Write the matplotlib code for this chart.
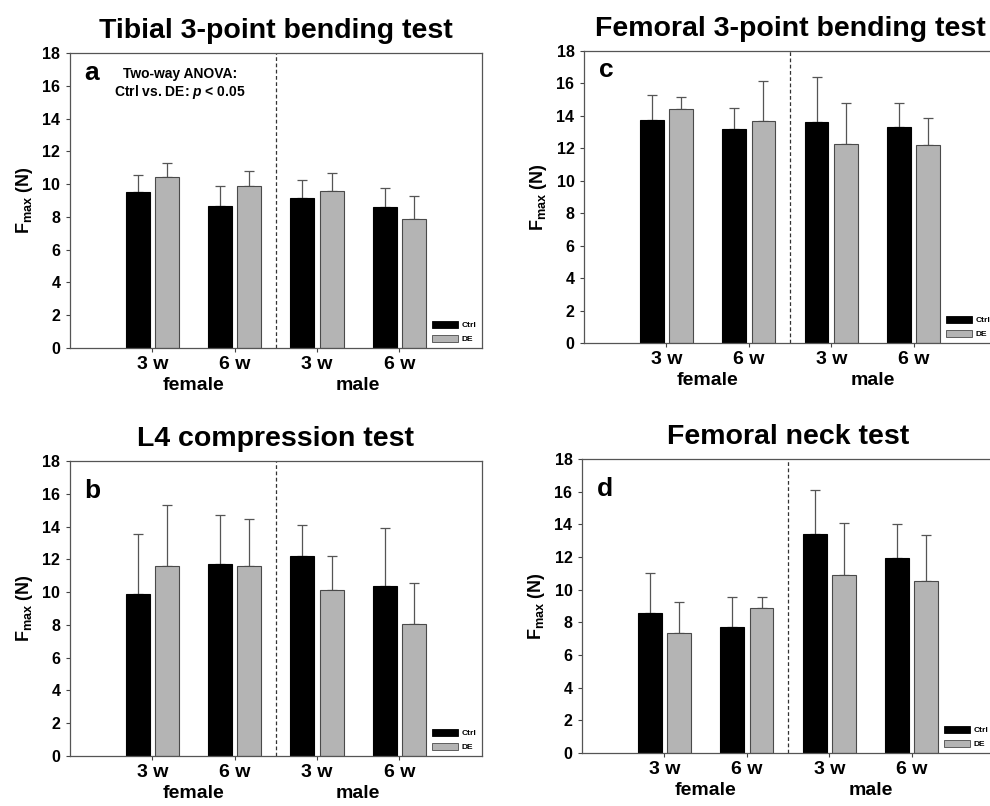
import numpy as np
import matplotlib
matplotlib.use("Agg")
from matplotlib import pyplot as plt
from matplotlib.patches import Patch

plt.rcParams['font.family'] = ['Liberation Sans', 'DejaVu Sans']
plt.rcParams['font.weight'] = 'bold'
plt.rcParams['mathtext.fontset'] = 'custom'
plt.rcParams['mathtext.rm'] = 'Liberation Sans:bold'
plt.rcParams['mathtext.it'] = 'Liberation Sans:bold:italic'

groups = ["3 w", "6 w", "3 w", "6 w"]
sexes = ["female", "male"]
series = ["Ctrl", "DE"]

# tibial 3-point bending (a)
tib_ctrl = [9.52, 8.68, 9.15, 8.62]
tib_ctrl_sd = [1.01, 1.18, 1.10, 1.16]
tib_de = [10.43, 9.88, 9.60, 7.87]
tib_de_sd = [0.86, 0.92, 1.06, 1.40]

# L4 compression (b)
l4_ctrl = [9.89, 11.70, 12.23, 10.36]
l4_ctrl_sd = [3.66, 2.99, 1.87, 3.58]
l4_de = [11.62, 11.58, 10.12, 8.03]
l4_de_sd = [3.68, 2.87, 2.09, 2.53]

# femoral 3-point bending (c)
fem_ctrl = [13.77, 13.22, 13.63, 13.32]
fem_ctrl_sd = [1.54, 1.25, 2.75, 1.46]
fem_de = [14.41, 13.69, 12.27, 12.23]
fem_de_sd = [0.78, 2.48, 2.55, 1.67]

# femoral neck (d)
neck_ctrl = [8.57, 7.71, 13.43, 11.94]
neck_ctrl_sd = [2.43, 1.82, 2.67, 2.08]
neck_de = [7.35, 8.88, 10.90, 10.51]
neck_de_sd = [1.87, 0.65, 3.20, 2.86]

panels = [
    ("Tibial 3-point bending test", "a", tib_ctrl, tib_ctrl_sd, tib_de, tib_de_sd, [0.0707, 0.5682, 0.416, 0.366], 0.91),
    ("Femoral 3-point bending test", "c", fem_ctrl, fem_ctrl_sd, fem_de, fem_de_sd, [0.590, 0.5744, 0.416, 0.3623], 0.91),
    ("L4 compression test", "b", l4_ctrl, l4_ctrl_sd, l4_de, l4_de_sd, [0.0707, 0.062, 0.416, 0.366], 0.875),
    ("Femoral neck test", "d", neck_ctrl, neck_ctrl_sd, neck_de, neck_de_sd, [0.588, 0.0658, 0.416, 0.3647], 0.875),
]

ctrl_col = "black"
de_col = "#b4b4b4"
edge = "#4a4a4a"
w = 0.29
off = 0.178

fig = plt.figure(figsize=(9.9, 8.06), dpi=100)

for title, letter, c, csd, d, dsd, pos, ly in panels:
    ax = fig.add_axes(pos)
    x = np.arange(1, len(groups) + 1)
    ax.bar(x - off, c, w, color=ctrl_col, edgecolor="black", linewidth=0.8, zorder=2)
    ax.bar(x + off, d, w, color=de_col, edgecolor=edge, linewidth=0.8, zorder=2)
    ax.errorbar(x - off, c, yerr=[np.zeros(len(c)), csd], fmt="none", ecolor="#555555",
                elinewidth=0.9, capsize=3.5, capthick=0.9, zorder=1)
    ax.errorbar(x + off, d, yerr=[np.zeros(len(d)), dsd], fmt="none", ecolor="#555555",
                elinewidth=0.9, capsize=3.5, capthick=0.9, zorder=1)
    ax.axvline(2.5, color="#333333", linestyle=(0, (3, 2)), linewidth=0.9, zorder=0)

    ax.set_xlim(0, 5)
    ax.set_ylim(0, 18)
    ax.set_yticks(np.arange(0, 19, 2))
    ax.set_xticks(x)
    ax.set_xticklabels(groups, fontsize=14, fontweight="bold")
    ax.tick_params(axis="y", labelsize=11.5, length=3, width=0.8, color="#444444", pad=4)
    ax.tick_params(axis="x", length=3, width=0.8, color="#444444", pad=3)
    for s in ax.spines.values():
        s.set_color("#555555")
        s.set_linewidth(0.9)

    for i, sx in enumerate(sexes):
        ax.text(1.5 + 2 * i, -0.128, sx, ha="center", va="center", fontsize=14,
                fontweight="bold", transform=ax.get_xaxis_transform())

    ax.set_ylabel(r"F$_\mathrm{max}$ (N)", fontsize=13, fontweight="bold", labelpad=5)
    ax.set_title(title, fontsize=20.5, fontweight="bold", pad=11)
    ax.text(0.035, ly, letter, transform=ax.transAxes, fontsize=19, fontweight="bold",
            ha="left", va="baseline")

    handles = [Patch(facecolor=ctrl_col, edgecolor="black", linewidth=0.6),
               Patch(facecolor=de_col, edgecolor=edge, linewidth=0.6)]
    leg = ax.legend(handles, series, loc="lower left", bbox_to_anchor=(0.86, -0.01),
                    frameon=False, prop={"size": 6, "weight": "bold"},
                    handlelength=3.2, handleheight=0.9, handletextpad=0.4, labelspacing=0.7)

    if letter == "a":
        ax.text(0.267, 0.93, "Two-way ANOVA:", transform=ax.transAxes, ha="center",
                va="center", fontsize=10, fontweight="bold")
        ax.text(0.267, 0.868, r"Ctrl vs. DE: $p$ < 0.05", transform=ax.transAxes,
                ha="center", va="center", fontsize=10, fontweight="bold")

fig.savefig("out.png", dpi=100)
